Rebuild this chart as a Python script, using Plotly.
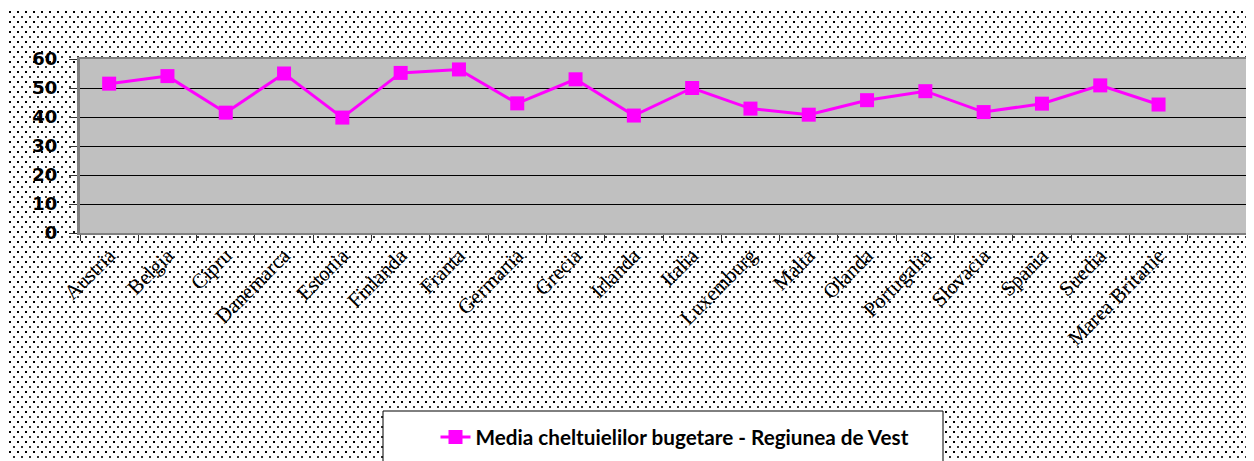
import plotly.graph_objects as go
import urllib.parse

countries = ["Austria", "Belgia", "Cipru", "Danemarca", "Estonia", "Finlanda", "Franta",
             "Germania", "Grecia", "Irlanda", "Italia", "Luxemburg", "Malta", "Olanda",
             "Portugalia", "Slovacia", "Spania", "Suedia", "Marea Britanie"]
values = [51.5, 54.1, 41.5, 55.0, 39.8, 55.2, 56.4, 44.7, 53.0, 40.5, 50.0, 42.9, 40.8,
          45.8, 48.9, 41.7, 44.6, 50.9, 44.3]
series_name = "Media cheltuielilor bugetare - Regiunea de Vest"
y_ticks = [0, 10, 20, 30, 40, 50, 60]

OFF = 8  # page body margin
W, H = 1254 - OFF, 461 - OFF
ML, MR, MT, MB = 80 - OFF, 8, 59 - OFF, 228
PW, PH = W - ML - MR, H - MT - MB

svg = (
    f"<svg xmlns='http://www.w3.org/2000/svg' width='{W}' height='{H}'>"
    "<defs><pattern id='p' width='8' height='10' patternUnits='userSpaceOnUse'>"
    "<rect width='8' height='10' fill='white'/>"
    "<rect x='1' y='3' width='2' height='2' fill='black'/>"
    "<rect x='5' y='8' width='2' height='2' fill='#333'/>"
    "</pattern></defs>"
    f"<rect width='{W}' height='{H}' fill='url(#p)'/></svg>"
)
src = "data:image/svg+xml;charset=utf-8," + urllib.parse.quote(svg)

fig = go.Figure()
fig.add_trace(go.Scatter(
    x=countries, y=values, name=series_name, mode="lines+markers",
    line=dict(color="#FF00FF", width=3),
    marker=dict(symbol="square", size=14, color="#FF00FF"),
))

def px_x(page_x):
    return (page_x - OFF - ML) / PW

def px_y(page_y):
    return (H - MB - (page_y - OFF)) / PH

fig.add_layout_image(dict(
    source=src, xref="paper", yref="paper",
    x=-ML / PW, y=1 + MT / PH, sizex=W / PW, sizey=H / PH,
    xanchor="left", yanchor="top", sizing="stretch", layer="below",
))

# plot area fill (drawn above the background pattern)
fig.add_shape(type="rect", xref="paper", yref="paper", x0=0, x1=1, y0=0, y1=1,
              fillcolor="#C0C0C0", line=dict(width=0), layer="below")

# legend frame
fig.add_shape(type="rect", xref="paper", yref="paper",
              x0=px_x(383), x1=px_x(943), y0=px_y(475), y1=px_y(411),
              fillcolor="white", line=dict(color="black", width=1), layer="above")

fig.update_layout(
    width=W, height=H,
    margin=dict(l=ML, r=MR, t=MT, b=MB, autoexpand=False),
    paper_bgcolor="white", plot_bgcolor="rgba(0,0,0,0)",
    showlegend=True,
    legend=dict(x=px_x(675), xanchor="center", y=px_y(437), yanchor="middle",
                bgcolor="rgba(0,0,0,0)", borderwidth=0,
                font=dict(family="Lato", size=20.7, color="black", weight="bold")),
    xaxis=dict(
        type="category", categoryorder="array", categoryarray=countries,
        range=[-0.5, 19.5], tickangle=-45, automargin=False,
        tickfont=dict(family="Liberation Serif", size=21, color="black"),
        showgrid=False, ticks="outside", ticklen=6, tickcolor="#333", tickson="boundaries",
        showline=True, linecolor="#808080", linewidth=2, mirror=True,
        zeroline=False, fixedrange=True,
    ),
    yaxis=dict(
        range=[0, 60], tickvals=y_ticks, automargin=False,
        tickfont=dict(family="DejaVu Sans", size=18, color="black", weight="bold"),
        showgrid=True, gridcolor="#000000", gridwidth=1,
        ticks="outside", ticklen=8, tickcolor="#333", ticklabelstandoff=8,
        showline=True, linecolor="#808080", linewidth=3, mirror=True,
        zeroline=False, fixedrange=True,
    ),
)

fig.write_html("out.html")
